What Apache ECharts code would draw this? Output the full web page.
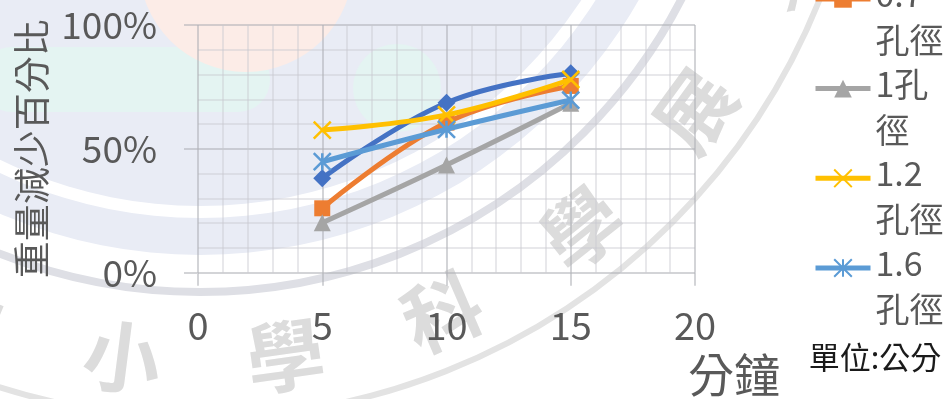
<!DOCTYPE html>
<html>
<head>
<meta charset="utf-8">
<script src="https://cdn.jsdelivr.net/npm/echarts@6/dist/echarts.min.js"></script>
<style>
  html, body { margin: 0; padding: 0; background: #ffffff; }
  #chart { width: 950px; height: 399px; }
</style>
</head>
<body>
<div id="chart"></div>
<script>
// Weight-loss percentage after 5/10/15 minutes for each hole diameter (cm)
const minutes = [5, 10, 15];
const seriesNames = ['0.5孔徑', '0.7孔徑', '1孔徑', '1.2孔徑', '1.6孔徑'];
const hole05 = [38.1, 68.6, 80.5];
const hole07 = [26.0, 60.6, 75.4];
const hole10 = [20.2, 43.5, 68.4];
const hole12 = [57.6, 63.7, 78.0];
const hole16 = [44.8, 57.9, 69.7];
const xTickValues = [0, 5, 10, 15, 20];
const yTickValues = [0, 50, 100];
// Legend names wrapped onto two lines
const legendLines = {
  '0.5孔徑': ['0.5', '孔徑'],
  '0.7孔徑': ['0.7', '孔徑'],
  '1孔徑': ['1孔', '徑'],
  '1.2孔徑': ['1.2', '孔徑'],
  '1.6孔徑': ['1.6', '孔徑']
};

const FONT = "'Noto Sans CJK TC', 'Noto Sans', sans-serif";
const TEXT_GRAY = '#595959';
const MAJOR_LINE = 'rgba(175,176,182,0.55)';
const MINOR_LINE = 'rgba(200,201,208,0.42)';
const LEGEND_LINE_H = 46;
const LEGEND_SPACER_H = 36;

const palette = ['#4472C4', '#ED7D31', '#A5A5A5', '#FFC000', '#5B9BD5'];
const symbols = [
  { symbol: 'diamond', size: 18 },
  { symbol: 'rect', size: 16 },
  { symbol: 'triangle', size: 17 },
  { symbol: 'path://M0,0L10,10M10,0L0,10', size: 17, stroke: 2.5 },
  { symbol: 'path://M0,0L10,10M10,0L0,10M5,0L5,10', size: 17, stroke: 2.5 }
];
const values = [hole05, hole07, hole10, hole12, hole16];

const series = seriesNames.map((name, i) => {
  const s = symbols[i];
  return {
    name: name,
    type: 'line',
    smooth: 0.4,
    data: minutes.map((m, j) => [m, values[i][j]]),
    symbol: s.symbol,
    symbolSize: s.size,
    showSymbol: true,
    lineStyle: { color: palette[i], width: 5 },
    itemStyle: s.stroke
      ? { color: palette[i], borderColor: palette[i], borderWidth: s.stroke }
      : { color: palette[i], borderWidth: 0 },
    emphasis: { disabled: true },
    silent: true,
    z: 2 + i
  };
});

// Background emblem: concentric rings with lettering around the lower arc
const cx = 200, cy = -250;
const emblemChars = ['中', '小', '學', '科', '學', '展', '覽', '會'];
const emblem = [
  { type: 'circle', shape: { cx: cx, cy: cy, r: 456 }, style: { fill: '#E9ECF5' } },
  { type: 'ring', shape: { cx: cx, cy: cy, r: 505, r0: 468 }, style: { fill: '#E9ECF5' } },
  { type: 'rect', shape: { x: -20, y: 47, width: 290, height: 65, r: 32 }, style: { fill: '#E4F4F2' } },
  { type: 'circle', shape: { cx: 246, cy: -35, r: 107 }, style: { fill: '#FCECE7' } },
  { type: 'circle', shape: { cx: 397, cy: 88, r: 44 }, style: { fill: '#E4F4F2' } },
  { type: 'circle', shape: { cx: cx, cy: cy, r: 542 }, style: { fill: 'none', stroke: '#DEDFE5', lineWidth: 8 } },
  { type: 'circle', shape: { cx: cx, cy: cy, r: 668 }, style: { fill: 'none', stroke: '#E3E3E3', lineWidth: 6 } }
];
emblemChars.forEach((ch, k) => {
  const deg = 112.6 - 15.3 * k;
  const rad = deg * Math.PI / 180;
  emblem.push({
    type: 'text',
    x: cx + 612 * Math.cos(rad),
    y: cy + 612 * Math.sin(rad),
    rotation: (90 - deg) * Math.PI / 180,
    style: {
      text: ch, fontSize: 78, fontWeight: 'bold', fontFamily: FONT,
      fill: '#DCDCDC', align: 'center', verticalAlign: 'middle'
    }
  });
});
emblem.forEach(e => { e.z = -20; e.silent = true; });

const legendRich = {
  s: { fontSize: 33, lineHeight: LEGEND_SPACER_H, fontFamily: FONT, color: TEXT_GRAY },
  t: { fontSize: 34, lineHeight: LEGEND_LINE_H, fontFamily: FONT, color: TEXT_GRAY }
};

const option = {
  animation: false,
  backgroundColor: '#ffffff',
  grid: { left: 198, right: 255, top: 25, bottom: 126.3, outerBoundsMode: 'none', containLabel: false },
  xAxis: {
    type: 'value',
    min: xTickValues[0],
    max: xTickValues[xTickValues.length - 1],
    interval: xTickValues[1] - xTickValues[0],
    axisLine: { show: false },
    axisTick: { show: true, inside: false, length: 13, lineStyle: { color: MAJOR_LINE, width: 2 } },
    axisLabel: { fontSize: 38, color: TEXT_GRAY, fontFamily: FONT, margin: 34 },
    splitLine: { show: true, lineStyle: { color: MAJOR_LINE, width: 2 } },
    minorTick: { show: false, splitNumber: 5 },
    minorSplitLine: { show: true, lineStyle: { color: MINOR_LINE, width: 2 } }
  },
  yAxis: {
    type: 'value',
    min: yTickValues[0],
    max: yTickValues[yTickValues.length - 1],
    interval: yTickValues[1] - yTickValues[0],
    name: '重量減少百分比',
    nameLocation: 'middle',
    nameRotate: 90,
    nameGap: 146,
    nameTextStyle: { fontSize: 37, color: TEXT_GRAY, fontFamily: FONT },
    axisLine: { show: false },
    axisTick: { show: true, inside: false, length: 14, lineStyle: { color: MAJOR_LINE, width: 2 } },
    axisLabel: { formatter: '{value}%', fontSize: 37, color: TEXT_GRAY, fontFamily: FONT, margin: 41 },
    splitLine: { show: true, lineStyle: { color: MAJOR_LINE, width: 2 } },
    minorTick: { show: false, splitNumber: 5 },
    minorSplitLine: { show: true, lineStyle: { color: MINOR_LINE, width: 2 } }
  },
  legend: {
    orient: 'vertical',
    left: 813,
    top: -153.3,
    padding: 0,
    itemGap: -30.8,
    itemWidth: 55,
    itemHeight: 22,
    selectedMode: false,
    data: seriesNames,
    // a blank spacer line above keeps the icon level with the first text line
    formatter: n => '{s| }\n{t|' + legendLines[n][0] + '}\n{t|' + legendLines[n][1] + '}',
    lineStyle: { width: 5 },
    textStyle: { fontSize: 34, color: TEXT_GRAY, fontFamily: FONT, rich: legendRich }
  },
  graphic: emblem.concat([
    {
      type: 'text', x: 734, y: 375, silent: true,
      style: { text: '分鐘', fontSize: 46, fontFamily: FONT, fill: TEXT_GRAY, align: 'center', verticalAlign: 'middle' }
    },
    {
      type: 'text', x: 875, y: 357, silent: true,
      style: { text: '單位:公分', fontSize: 31, fontFamily: FONT, fill: '#1a1a1a', align: 'center', verticalAlign: 'middle' }
    }
  ]),
  series: series
};

const chart = echarts.init(document.getElementById('chart'));
chart.setOption(option);
</script>
</body>
</html>
